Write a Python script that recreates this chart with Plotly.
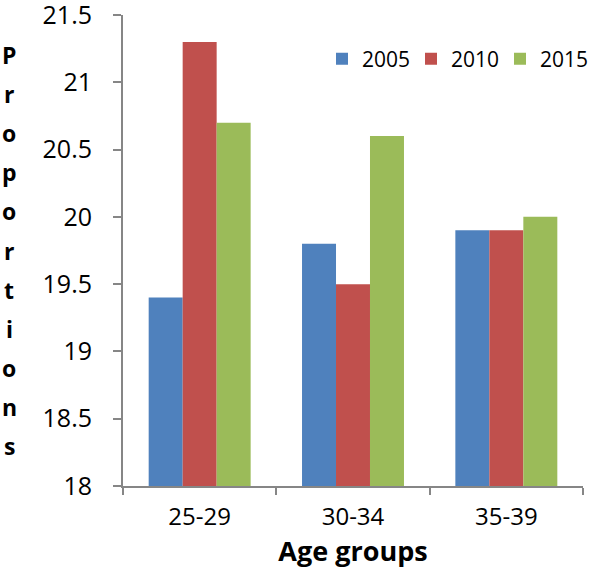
import plotly.graph_objects as go

categories = ["25-29", "30-34", "35-39"]
years = ["2005", "2010", "2015"]
values_2005 = [19.4, 19.8, 19.9]
values_2010 = [21.3, 19.5, 19.9]
values_2015 = [20.7, 20.6, 20.0]
colors = ["#4F81BD", "#C0504D", "#9BBB59"]
y_ticks = [18, 18.5, 19, 19.5, 20, 20.5, 21, 21.5]
y_title = "Proportions"
x_title = "Age groups"

FONT = "Open Sans"
AX = "#868686"

L, R, T, B = 123, 583, 15, 486

fig = go.Figure()
for name, vals, c in zip(years, [values_2005, values_2010, values_2015], colors):
    fig.add_trace(go.Bar(x=categories, y=vals, name=name, marker=dict(color=c, line=dict(width=0)), base=0))

fig.update_layout(
    width=592, height=576,
    margin=dict(l=L, r=592 - R, t=T, b=576 - B, autoexpand=False),
    plot_bgcolor="white", paper_bgcolor="white",
    barmode="group", bargap=0.335, bargroupgap=0,
    font=dict(family=FONT, size=24, color="black"),
    showlegend=True,
    legend=dict(orientation="h", x=(322 - L) / (R - L), xanchor="left", y=(B - 59) / (B - T), yanchor="middle",
                font=dict(family=FONT, size=21, color="black"),
                bgcolor="rgba(0,0,0,0)", itemwidth=30, tracegroupgap=0,
                entrywidth=44, entrywidthmode="pixels"),
)
fig.update_xaxes(
    automargin=False,
    showline=True, linecolor=AX, linewidth=2,
    ticks="outside", tickson="boundaries", ticklen=7, tickcolor=AX, tickwidth=2,
    showgrid=False, tickfont=dict(family=FONT, size=24, color="black"),
    ticklabelstandoff=8,
    title=dict(text="<b>" + x_title + "</b>", font=dict(family=FONT, size=27, color="black"), standoff=8),
)
fig.update_yaxes(
    automargin=False,
    range=[18, 21.5], tickvals=y_ticks, ticktext=[f"{v:g}" for v in y_ticks],
    showline=True, linecolor=AX, linewidth=2,
    ticks="outside", ticklen=8, tickcolor=AX, tickwidth=2,
    showgrid=False, zeroline=False, tickfont=dict(family=FONT, size=25, color="black"),
    ticklabelstandoff=16, ticklabeloverflow="allow",
)

# Vertical stacked y title letters
letters = list(y_title)
top_c, bot_c = 55.0, 446.0
n = len(letters)
for i, ch in enumerate(letters):
    ypx = top_c + (bot_c - top_c) * i / (n - 1)
    yp = (B - ypx) / (B - T)
    fig.add_annotation(text="<b>" + ch + "</b>", xref="paper", yref="paper",
                       x=(9 - L) / (R - L), y=yp, xanchor="center", yanchor="middle",
                       showarrow=False, font=dict(family=FONT, size=23, color="black"))

fig.write_html("out.html", config={"displayModeBar": False},
               post_script="document.body.style.margin='0';document.body.style.padding='0';")
